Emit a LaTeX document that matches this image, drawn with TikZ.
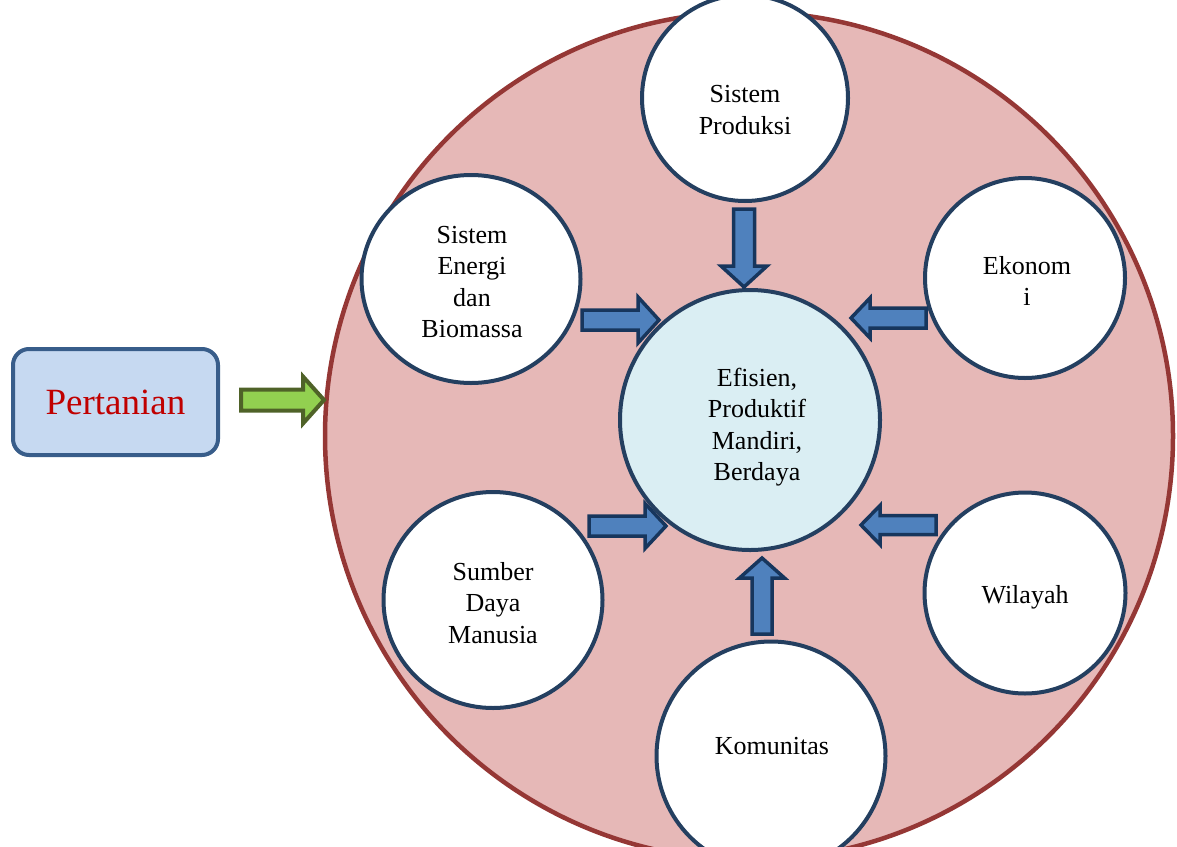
\documentclass[tikz,border=0pt]{standalone}
\usepackage{fontspec}
\setmainfont{Liberation Serif}
\usetikzlibrary{shapes.geometric}
\definecolor{bigfill}{HTML}{E6B8B7}
\definecolor{bigline}{HTML}{953735}
\definecolor{cline}{HTML}{243F60}
\definecolor{cfill}{HTML}{DAEEF3}
\definecolor{afill}{HTML}{4F81BD}
\definecolor{aline}{HTML}{17365D}
\definecolor{gfill}{HTML}{92D050}
\definecolor{gline}{HTML}{4F6228}
\definecolor{pfill}{HTML}{C6D9F1}
\definecolor{pline}{HTML}{385D8A}
\definecolor{ptext}{HTML}{C00000}
% #1 style, #2 tip coordinate, #3 rotation, #4 total length, #5 head length, #6 shaft half width, #7 head half width
\newcommand{\blockarrow}[7]{%
  \draw[#1,shift={(#2)},rotate=#3] (0,0) -- (-#5,#7) -- (-#5,#6) -- (-#4,#6)
    -- (-#4,-#6) -- (-#5,-#6) -- (-#5,-#7) -- cycle;}
\tikzset{
  x=1pt, y=-1pt,
  outer/.style={draw=cline, line width=4pt, fill=white, inner sep=0pt},
  barrow/.style={draw=aline, line width=3.5pt, fill=afill, line join=miter},
  garrow/.style={draw=gline, line width=4pt, fill=gfill, line join=miter},
  lbl/.style={font=\fontsize{26}{31.5}\selectfont, align=center, inner sep=0pt},
}
\begin{document}
\begin{tikzpicture}
\useasboundingbox (0,0) rectangle (1177,846);
% big circle
\node[circle, draw=bigline, line width=4.5pt, fill=bigfill, minimum size=848pt, inner sep=0pt] (big) at (749,436) {};
% outer circles
\node[outer, circle, minimum size=206pt] (prod) at (745,98) {};
\node[outer, ellipse, minimum width=219pt, minimum height=208pt] (energi) at (471,279) {};
\node[outer, circle, minimum size=200pt] (ekon) at (1025,278) {};
\node[outer, ellipse, minimum width=219pt, minimum height=216pt] (sdm) at (493,600) {};
\node[outer, circle, minimum size=201pt] (wil) at (1025,593) {};
\node[outer, circle, minimum size=229pt] (kom) at (771,756) {};
% centre circle
\node[circle, draw=cline, line width=4pt, fill=cfill, minimum size=260pt, inner sep=0pt] (mid) at (750,420) {};
% Pertanian box
\node[draw=pline, line width=4pt, fill=pfill, rounded corners=16pt, minimum width=205pt, minimum height=106pt, inner sep=0pt, text=ptext, font=\fontsize{37}{40}\selectfont] (pert) at (115.5,402) {Pertanian};
% arrow tips
\coordinate (tdown) at (744,287);
\coordinate (tenergi) at (659,320);
\coordinate (tekon) at (851,318);
\coordinate (tsdm) at (666,526);
\coordinate (twil) at (861,525);
\coordinate (tup) at (762,558);
\coordinate (tgreen) at (324,400);
\blockarrow{barrow}{tdown}{270}{78}{21}{10.5}{23}
\blockarrow{barrow}{tenergi}{0}{77}{21}{10}{23}
\blockarrow{barrow}{tekon}{180}{75}{19}{10}{20}
\blockarrow{barrow}{tsdm}{0}{77}{21}{10}{22.5}
\blockarrow{barrow}{twil}{180}{75}{19}{9.5}{19.5}
\blockarrow{barrow}{tup}{90}{76}{20}{10}{22.5}
\blockarrow{garrow}{tgreen}{0}{83}{21}{10.5}{23.5}
% labels
\node[lbl] (lprod) at (745,110) {Sistem\\Produksi};
\node[lbl] (lenergi) at (472,282) {Sistem\\Energi\\dan\\Biomassa};
\node[lbl] (lekon) at (1027,281) {Ekonom\\i};
\node[lbl] (lmid) at (757,427) {Efisien,\\Produktif\\Mandiri,\\Berdaya};
\node[lbl] (lsdm) at (493,603) {Sumber\\Daya\\Manusia};
\node[lbl] (lwil) at (1025,597) {Wilayah};
\node[lbl] (lkom) at (772,746) {Komunitas};
\end{tikzpicture}
\end{document}
